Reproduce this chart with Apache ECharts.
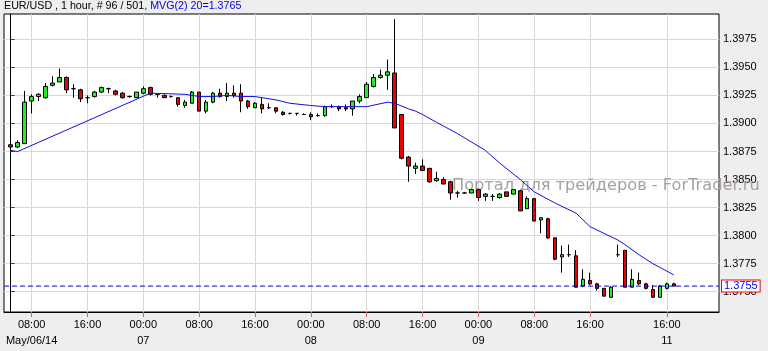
<!DOCTYPE html>
<html>
<head>
<meta charset="utf-8">
<script src="https://cdn.jsdelivr.net/npm/echarts@6/dist/echarts.min.js"></script>
<style>html,body{margin:0;padding:0;background:#eeeeee;}#c{width:768px;height:351px;}</style>
</head>
<body>
<div id="c"></div>
<script>
// ---- data (EUR/USD, 1 hour) ----
const opens = [1.3881,1.3879,1.3882,1.3920,1.3924,1.3923,1.3934,1.3937,1.3941,1.3931,
1.3930,1.3923,1.3924,1.3928,1.3931,1.3929,1.3927,1.3924,1.3923,1.3927,
1.3932,1.3926,1.3925,1.3924,1.3923,1.3916,1.3918,1.3928,1.3911,1.3919,
1.3927,1.3924,1.3927,1.3927,1.3920,1.3914,1.3917,1.3914,1.3914,1.3910,
1.3909,1.3909,1.3908,1.3908,1.3907,1.3907,1.3915,1.3915,1.3914,1.3913,
1.3920,1.3923,1.3933,1.3941,1.3943,1.3945,1.3908,1.3870,1.3860,1.3862,
1.3860,1.3849,1.3850,1.3848,1.3838,1.3838,1.3838,1.3841,1.3835,1.3835,
1.3834,1.3839,1.3837,1.3840,1.3824,1.3833,1.3814,1.3815,1.3798,1.3781,
1.3783,1.3782,1.3755,1.3760,1.3757,1.3753,1.3745,1.3783,1.3787,1.3754,
1.3760,1.3757,1.3752,1.3745,1.3753,1.3757];
const closes = [1.3879,1.3883,1.3919,1.3924,1.3926,1.3933,1.3936,1.3941,1.3930,1.3931,
1.3922,1.3923,1.3928,1.3932,1.3931,1.3926,1.3923,1.3924,1.3928,1.3931,
1.3926,1.3926,1.3923,1.3924,1.3917,1.3919,1.3928,1.3911,1.3919,1.3927,
1.3924,1.3927,1.3925,1.3920,1.3915,1.3918,1.3913,1.3914,1.3911,1.3908,
1.3909,1.3909,1.3908,1.3906,1.3907,1.3915,1.3915,1.3913,1.3913,1.3920,
1.3924,1.3935,1.3941,1.3943,1.3946,1.3896,1.3869,1.3862,1.3862,1.3858,
1.3848,1.3851,1.3846,1.3838,1.3838,1.3838,1.3841,1.3834,1.3837,1.3835,
1.3837,1.3835,1.3841,1.3822,1.3833,1.3813,1.3816,1.3798,1.3779,1.3783,
1.3783,1.3754,1.3761,1.3757,1.3753,1.3746,1.3754,1.3783,1.3754,1.3761,
1.3757,1.3753,1.3745,1.3755,1.3757,1.3755];
const highs = [1.3882,1.3885,1.3929,1.3926,1.3927,1.3936,1.3942,1.3949,1.3942,1.3935,
1.3931,1.3925,1.3929,1.3933,1.3932,1.3930,1.3928,1.3925,1.3928,1.3933,
1.3933,1.3927,1.3926,1.3925,1.3923,1.3921,1.3929,1.3928,1.3921,1.3928,
1.3931,1.3936,1.3934,1.3935,1.3921,1.3919,1.3923,1.3918,1.3914,1.3911,
1.3909,1.3909,1.3909,1.3910,1.3909,1.3916,1.3917,1.3916,1.3917,1.3920,
1.3926,1.3937,1.3944,1.3948,1.3957,1.3993,1.3908,1.3871,1.3865,1.3868,
1.3860,1.3857,1.3852,1.3849,1.3840,1.3839,1.3841,1.3842,1.3838,1.3837,
1.3838,1.3839,1.3841,1.3840,1.3835,1.3833,1.3816,1.3816,1.3798,1.3791,
1.3792,1.3787,1.3770,1.3767,1.3758,1.3753,1.3755,1.3792,1.3787,1.3770,
1.3767,1.3758,1.3756,1.3756,1.3758,1.3758];
const lows = [1.3878,1.3878,1.3882,1.3909,1.3920,1.3922,1.3933,1.3937,1.3927,1.3923,
1.3919,1.3918,1.3923,1.3927,1.3927,1.3925,1.3922,1.3923,1.3923,1.3926,
1.3925,1.3923,1.3923,1.3923,1.3915,1.3914,1.3918,1.3911,1.3909,1.3918,
1.3923,1.3920,1.3923,1.3910,1.3913,1.3914,1.3909,1.3913,1.3909,1.3907,
1.3908,1.3907,1.3908,1.3903,1.3906,1.3906,1.3914,1.3911,1.3911,1.3907,
1.3918,1.3923,1.3932,1.3940,1.3930,1.3896,1.3868,1.3848,1.3855,1.3858,
1.3847,1.3848,1.3846,1.3832,1.3834,1.3838,1.3838,1.3831,1.3831,1.3831,
1.3833,1.3835,1.3837,1.3822,1.3824,1.3813,1.3802,1.3797,1.3778,1.3767,
1.3781,1.3754,1.3754,1.3756,1.3751,1.3746,1.3745,1.3781,1.3754,1.3754,
1.3756,1.3752,1.3745,1.3745,1.3752,1.3755];
// MVG(2) 20 readings at the candles where it was read
const maIdx = [0,1,20,25,27,29,31,33,35,38,40,43,45,51,54,55,57,58,59,61,64,68,70,73,75,78,81,83,86,87,88,90,92,95];
const maVal = [1.3876,1.3875,1.3927,1.3926,1.3924,1.3924,1.3925,1.3924,1.3924,1.3921,1.3918,1.3916,1.3915,1.3915,1.3919,1.3918,1.3913,1.3911,1.3908,1.3901,1.3891,1.3876,1.3865,1.3850,1.3839,1.3829,1.3820,1.3808,1.3799,1.3796,1.3792,1.3783,1.3775,1.3765];
const xTickIdx = [3,11,19,27,35,43,51,59,67,75,83,94];
const xTimeLabels = ['08:00','16:00','00:00','08:00','16:00','00:00','08:00','16:00','00:00','08:00','16:00','16:00'];
const xDateLabels = ['May/06/14','','07','','','08','','','09','','','11'];
const yTicks = [1.3750,1.3775,1.3800,1.3825,1.3850,1.3875,1.3900,1.3925,1.3950,1.3975];
const lastPrice = 1.3755;
const titleMain = 'EUR/USD , 1 hour, # 96 / 501';
const titleMA = ', MVG(2) 20=1.3765';
const watermark = 'Портал для трейдеров - ForTrader.ru';

// ---- build ----
const X_MIN = -0.96, X_MAX = 101.47;
const candleData = opens.map((o, i) => [i, o, closes[i], lows[i], highs[i]]);
const maData = opens.map((_, i) => {
  const k = maIdx.indexOf(i);
  return [i, k >= 0 ? maVal[k] : null];
});

const FONT = 'Liberation Sans';
const chart = echarts.init(document.getElementById('c'), null, {renderer: 'canvas'});
chart.setOption({
  animation: false,
  backgroundColor: '#eeeeee',
  grid: {left: 4, right: 49, top: 14, bottom: 39, show: true, backgroundColor: '#ffffff', borderColor: '#000000', borderWidth: 1},
  xAxis: {
    type: 'value', min: X_MIN, max: X_MAX,
    axisLine: {show: true, onZero: false, lineStyle: {color: '#000', width: 1}},
    axisTick: {show: true, length: 5, lineStyle: {color: '#e06060'}, customValues: xTickIdx},
    axisLabel: {
      customValues: xTickIdx, margin: 5, color: '#000', fontFamily: FONT, fontSize: 11, lineHeight: 16,
      formatter: function (v) {
        const k = xTickIdx.indexOf(Math.round(v));
        if (k < 0) return '';
        return xTimeLabels[k] + (xDateLabels[k] ? '\n' + xDateLabels[k] : '');
      }
    },
    splitLine: {show: true, lineStyle: {color: '#d8d8d8', width: 1}}
  },
  yAxis: {
    type: 'value', position: 'right', min: 1.37319, max: 1.39976, scale: true,
    axisLine: {show: true, lineStyle: {color: '#000'}},
    axisTick: {show: true, length: 4, lineStyle: {color: '#dd0000'}, customValues: yTicks},
    axisLabel: {customValues: yTicks, margin: 4, color: '#000', fontFamily: FONT, fontSize: 11,
      formatter: v => v.toFixed(4)},
    splitLine: {show: true, lineStyle: {color: '#d8d8d8', width: 1}}
  },
  graphic: [
    {type: 'text', left: 4, top: 1, z: 10, style: {
      text: '{a|' + titleMain + '}{b|' + titleMA + '}',
      rich: {a: {fill: '#000', fontFamily: FONT, fontSize: 10.7}, b: {fill: '#0000dd', fontFamily: FONT, fontSize: 10.7}}
    }},
    {type: 'text', left: 452, top: 178, z: 1, silent: true, style: {
      text: watermark, fill: '#a89f9f', fontFamily: 'DejaVu Sans', fontSize: 16.2
    }}
  ],
  series: [
    {
      type: 'candlestick', data: candleData, barWidth: 4, z: 3,
      encode: {x: 0, y: [1, 2, 3, 4]},
      itemStyle: {color: '#22ee22', color0: '#ee0000', borderColor: '#000', borderColor0: '#000', borderWidth: 1}
    },
    {
      type: 'line', data: maData, connectNulls: true, showSymbol: false, symbol: 'none', z: 4,
      lineStyle: {color: '#1010e0', width: 1}
    },
    {
      type: 'line', data: [[X_MIN, lastPrice], [X_MAX, lastPrice]], showSymbol: false, symbol: 'none', z: 5,
      lineStyle: {color: '#0000dd', type: [5, 3], width: 1},
      endLabel: {show: true, distance: 3, formatter: () => lastPrice.toFixed(4),
        color: '#0000ff', backgroundColor: '#ffffff', borderColor: '#ff0000', borderWidth: 1,
        padding: [0, 2, 0, 2], lineHeight: 11, fontFamily: FONT, fontSize: 11}
    }
  ]
});
</script>
</body>
</html>
